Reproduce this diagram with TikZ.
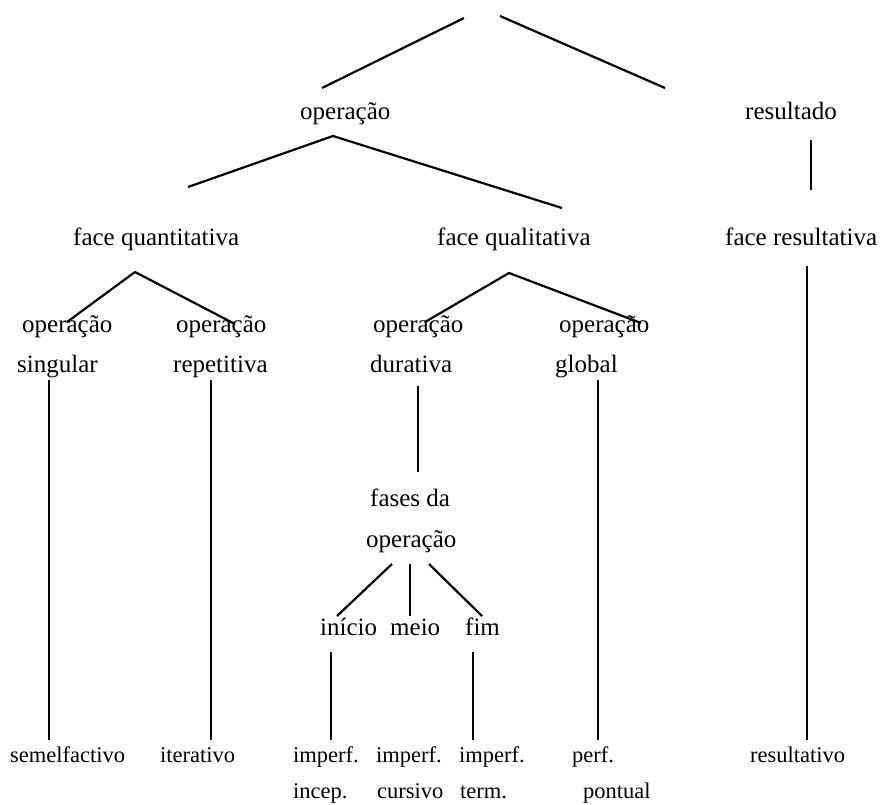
\documentclass[tikz,border=0pt]{standalone}
\usepackage{fontspec}
\setmainfont{Liberation Serif}
\begin{document}
\begin{tikzpicture}[x=1pt,y=-1pt,
  lbl/.style={anchor=base west,inner sep=0pt,font=\fontsize{25}{30}\selectfont},
  sml/.style={anchor=base west,inner sep=0pt,font=\fontsize{22.5}{27}\selectfont},
  ramo/.style={line width=2.2pt}]
\useasboundingbox (0,0) rectangle (881,804);

% textos
\node[lbl] (operacao) at (300,119) {operação};
\node[lbl] (resultado) at (745,119) {resultado};
\node[lbl] (quant) at (73,245) {face quantitativa};
\node[lbl] (qual) at (437,245) {face qualitativa};
\node[lbl] (result) at (725,245) {face resultativa};
\node[lbl] (singA) at (22,332) {operação};
\node[lbl] (singB) at (17,372) {singular};
\node[lbl] (repA) at (176,332) {operação};
\node[lbl] (repB) at (173,372) {repetitiva};
\node[lbl] (durA) at (373,332) {operação};
\node[lbl] (durB) at (370,372) {durativa};
\node[lbl] (globA) at (559,332) {operação};
\node[lbl] (globB) at (555,372) {global};
\node[lbl] (fasesA) at (370,506) {fases da};
\node[lbl] (fasesB) at (366,547) {operação};
\node[lbl] (inicio) at (320,635) {início};
\node[lbl] (meio) at (390,635) {meio};
\node[lbl] (fim) at (465,635) {fim};

\node[sml] (semelf) at (10,762) {semelfactivo};
\node[sml] (iter) at (160,762) {iterativo};
\node[sml] (impA) at (293,762) {imperf.};
\node[sml] (impB) at (376,762) {imperf.};
\node[sml] (impC) at (459,762) {imperf.};
\node[sml] (perf) at (572,762) {perf.};
\node[sml] (resfinal) at (750,762) {resultativo};
\node[sml] (incep) at (293,798) {incep.};
\node[sml] (cursivo) at (377,798) {cursivo};
\node[sml] (term) at (460,798) {term.};
\node[sml] (pontual) at (583,798) {pontual};

% pontos dos ramos
\coordinate (raizE) at (464,18);
\coordinate (raizD) at (500,16);
\coordinate (opE) at (322,88);
\coordinate (resD) at (665,88);
\coordinate (opTopo) at (333,136);
\coordinate (quantTopo) at (188,187);
\coordinate (qualTopo) at (562,208);
\coordinate (resA) at (811,140);
\coordinate (resB) at (811,190);
\coordinate (qtTopo) at (135,272);
\coordinate (singTopo) at (67,322);
\coordinate (repTopo) at (235,324);
\coordinate (qlTopo) at (509,273);
\coordinate (durTopo) at (425,322);
\coordinate (globTopo) at (641,323);
\coordinate (frA) at (807,266);
\coordinate (frB) at (807,740);
\coordinate (singA1) at (49,380);
\coordinate (singA2) at (49,740);
\coordinate (repA1) at (211,380);
\coordinate (repA2) at (211,740);
\coordinate (globA1) at (598,380);
\coordinate (globA2) at (598,740);
\coordinate (durA1) at (418,386);
\coordinate (durA2) at (418,472);
\coordinate (fsE) at (392,564);
\coordinate (fsM) at (410,564);
\coordinate (fsD) at (429,564);
\coordinate (inTopo) at (337,616);
\coordinate (meTopo) at (410,616);
\coordinate (fiTopo) at (482,616);
\coordinate (inA1) at (331,652);
\coordinate (inA2) at (331,740);
\coordinate (fiA1) at (473,652);
\coordinate (fiA2) at (473,740);

% ramos
\draw[ramo] (raizE) -- (opE);
\draw[ramo] (raizD) -- (resD);
\draw[ramo] (quantTopo) -- (opTopo) -- (qualTopo);
\draw[ramo] (resA) -- (resB);
\draw[ramo] (singTopo) -- (qtTopo) -- (repTopo);
\draw[ramo] (durTopo) -- (qlTopo) -- (globTopo);
\draw[ramo] (frA) -- (frB);
\draw[ramo] (singA1) -- (singA2);
\draw[ramo] (repA1) -- (repA2);
\draw[ramo] (globA1) -- (globA2);
\draw[ramo] (durA1) -- (durA2);
\draw[ramo] (fsE) -- (inTopo);
\draw[ramo] (fsM) -- (meTopo);
\draw[ramo] (fsD) -- (fiTopo);
\draw[ramo] (inA1) -- (inA2);
\draw[ramo] (fiA1) -- (fiA2);
\end{tikzpicture}
\end{document}
